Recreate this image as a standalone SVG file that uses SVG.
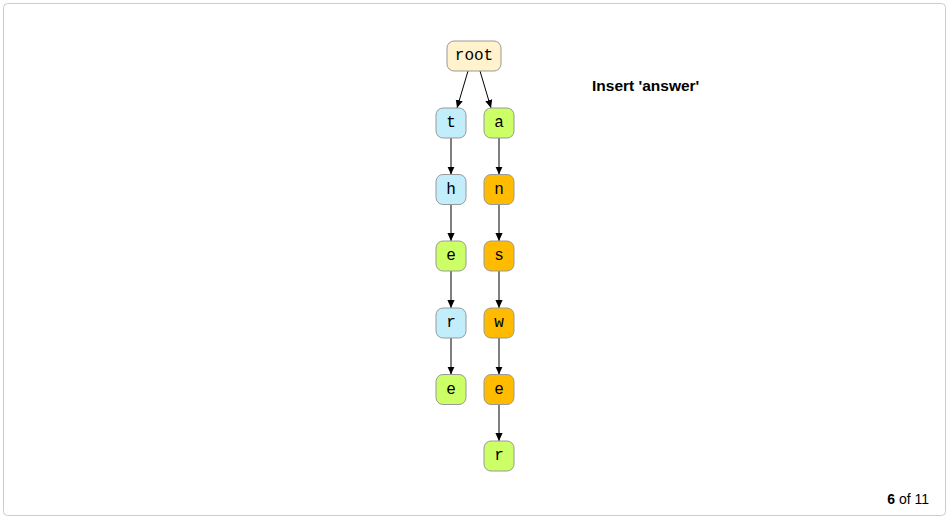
<svg xmlns="http://www.w3.org/2000/svg" width="950" height="519" viewBox="0 0 950 519">
<style>
.n rect{stroke:#999;stroke-width:1}
.n text{font-family:"Liberation Mono",monospace;font-size:16px;fill:#000;text-anchor:middle;dominant-baseline:central}
.b rect{fill:#c2eefc}
.g rect{fill:#ccff66}
.o rect{fill:#ffbb00}
.r rect{fill:#fff2cc}
.e line{stroke:#000;stroke-width:1}
</style>
<defs>
<marker id="ah" viewBox="0 0 10 10" refX="10" refY="5" markerWidth="8" markerHeight="8" markerUnits="userSpaceOnUse" orient="auto"><path d="M0,0.5L10,5L0,9.5z" fill="#000"/></marker>
</defs>
<rect x="3.5" y="3.5" width="942" height="512" rx="4" fill="#fff" stroke="#ccc"/>
<g class="e">
<line x1="468" y1="71" x2="457" y2="108" marker-end="url(#ah)"/>
<line x1="480" y1="71" x2="491" y2="108" marker-end="url(#ah)"/>
<line x1="451" y1="138" x2="451" y2="174.5" marker-end="url(#ah)"/>
<line x1="451" y1="204.5" x2="451" y2="241" marker-end="url(#ah)"/>
<line x1="451" y1="271" x2="451" y2="308" marker-end="url(#ah)"/>
<line x1="451" y1="338" x2="451" y2="374.5" marker-end="url(#ah)"/>
<line x1="499" y1="138" x2="499" y2="174.5" marker-end="url(#ah)"/>
<line x1="499" y1="204.5" x2="499" y2="241" marker-end="url(#ah)"/>
<line x1="499" y1="271" x2="499" y2="308" marker-end="url(#ah)"/>
<line x1="499" y1="338" x2="499" y2="374.5" marker-end="url(#ah)"/>
<line x1="499" y1="404.5" x2="499" y2="441" marker-end="url(#ah)"/>
</g>
<g id="root" class="n r"><rect x="447" y="41" width="54" height="30" rx="7"/><text x="474" y="56">root</text></g>
<g id="t" class="n b"><rect x="436" y="108" width="30" height="30" rx="7"/><text x="451" y="123">t</text></g>
<g id="h" class="n b"><rect x="436" y="174.5" width="30" height="30" rx="7"/><text x="451" y="189.5">h</text></g>
<g id="e1" class="n g"><rect x="436" y="241" width="30" height="30" rx="7"/><text x="451" y="256">e</text></g>
<g id="r1" class="n b"><rect x="436" y="308" width="30" height="30" rx="7"/><text x="451" y="323">r</text></g>
<g id="e2" class="n g"><rect x="436" y="374.5" width="30" height="30" rx="7"/><text x="451" y="389.5">e</text></g>
<g id="a" class="n g"><rect x="484" y="108" width="30" height="30" rx="7"/><text x="499" y="123">a</text></g>
<g id="n" class="n o"><rect x="484" y="174.5" width="30" height="30" rx="7"/><text x="499" y="189.5">n</text></g>
<g id="s" class="n o"><rect x="484" y="241" width="30" height="30" rx="7"/><text x="499" y="256">s</text></g>
<g id="w" class="n o"><rect x="484" y="308" width="30" height="30" rx="7"/><text x="499" y="323">w</text></g>
<g id="e3" class="n o"><rect x="484" y="374.5" width="30" height="30" rx="7"/><text x="499" y="389.5">e</text></g>
<g id="r2" class="n g"><rect x="484" y="441" width="30" height="30" rx="7"/><text x="499" y="456">r</text></g>
<text x="592" y="91" font-family="Liberation Sans,Arial,sans-serif" font-size="15.5" font-weight="bold" fill="#000">Insert 'answer'</text>
<text x="929" y="504" font-family="Liberation Sans,Arial,sans-serif" font-size="14" fill="#000" text-anchor="end"><tspan font-weight="bold">6</tspan> of 11</text>
</svg>
